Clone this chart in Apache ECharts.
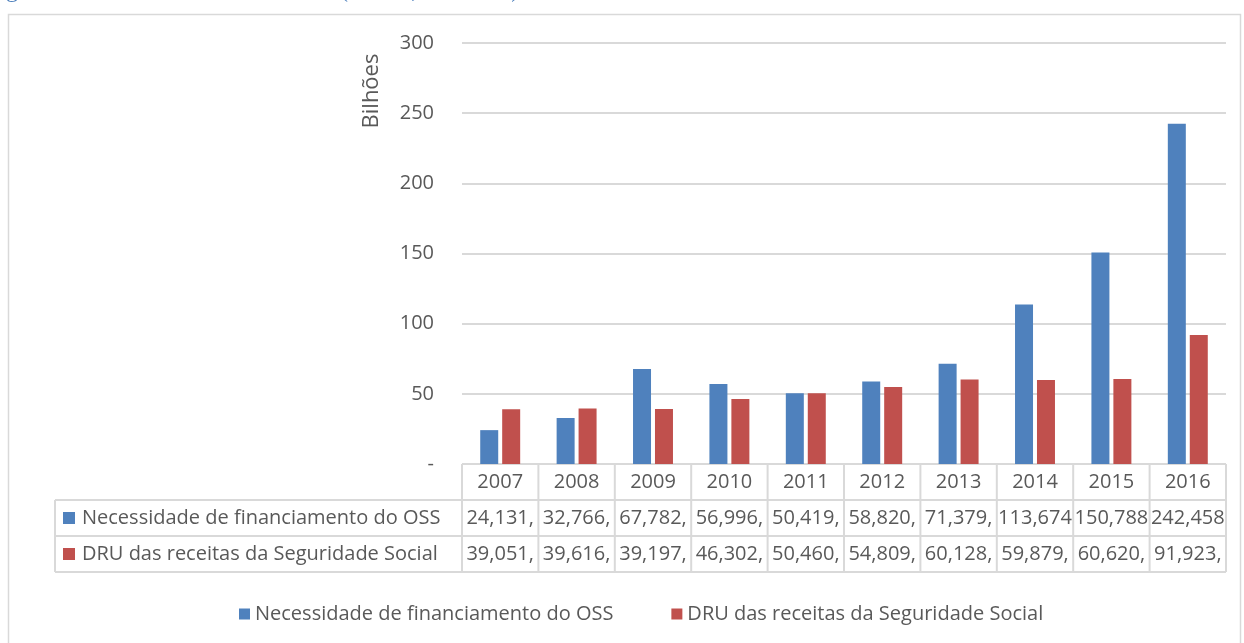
<!DOCTYPE html>
<html>
<head>
<meta charset="utf-8">
<script src="https://cdn.jsdelivr.net/npm/echarts@6/dist/echarts.min.js"></script>
<style>
  html, body { margin: 0; padding: 0; background: #fff; }
  #chart { width: 1244px; height: 643px; }
</style>
</head>
<body>
<div id="chart"></div>
<script>
// anos e valores (R$ bilhões)
const anos = ['2007', '2008', '2009', '2010', '2011', '2012', '2013', '2014', '2015', '2016'];
const necessidadeOSS = [24.131, 32.766, 67.782, 56.996, 50.419, 58.820, 71.379, 113.674, 150.788, 242.458];
const druSeguridade = [39.051, 39.616, 39.197, 46.302, 50.460, 54.809, 60.128, 59.879, 60.620, 91.923];
const nomes = ['Necessidade de financiamento do OSS', 'DRU das receitas da Seguridade Social'];
const cores = ['#4F81BD', '#C0504D'];

const FONT = '"Open Sans", sans-serif';
const TXT = '#595959';
const LINHA = '#D9D9D9';

// geometry of the plot / data table
const plotLeft = 462, plotRight = 1226, plotTop = 43, plotBottom = 464;
const rowH = 36, tableLeft = 55;
const catW = (plotRight - plotLeft) / anos.length;

// Excel shows the cell clipped: "24,131," ... "113,674"
function cellText(v) {
  const s = v.toFixed(3).replace('.', ',');
  return v < 100 ? s + ',' : s;
}

const chart = echarts.init(document.getElementById('chart'));

function tableGraphics() {
  const g = [];
  const line = (x1, y1, x2, y2) => g.push({
    type: 'line', silent: true,
    shape: { x1, y1, x2, y2 },
    style: { stroke: LINHA, lineWidth: 2 }
  });
  // horizontal borders
  line(plotLeft, plotBottom, plotRight, plotBottom);
  for (let r = 1; r <= 3; r++) {
    line(tableLeft, plotBottom + r * rowH, plotRight, plotBottom + r * rowH);
  }
  // vertical borders
  for (let i = 0; i <= anos.length; i++) {
    const x = plotLeft + i * catW;
    line(x, plotBottom, x, plotBottom + 3 * rowH);
  }
  line(tableLeft, plotBottom + rowH, tableLeft, plotBottom + 3 * rowH);

  const series = [necessidadeOSS, druSeguridade];
  series.forEach((vals, r) => {
    const cy = plotBottom + rowH * (r + 1.5);
    g.push({
      type: 'rect', silent: true,
      shape: { x: tableLeft + 8, y: cy - 6, width: 12, height: 12 },
      style: { fill: cores[r] }
    });
    g.push({
      type: 'text', silent: true,
      x: tableLeft + 27, y: cy,
      style: { text: nomes[r], fill: TXT, font: '20px ' + FONT, verticalAlign: 'middle', align: 'left' }
    });
    vals.forEach((v, i) => {
      g.push({
        type: 'text', silent: true,
        x: plotLeft + (i + 0.5) * catW, y: cy,
        style: { text: cellText(v), fill: TXT, font: '20px ' + FONT, verticalAlign: 'middle', align: 'center' }
      });
    });
  });
  return g;
}

const option = {
  backgroundColor: '#fff',
  animation: false,
  grid: {
    left: plotLeft, right: 1244 - plotRight, top: plotTop, bottom: 643 - plotBottom,
    containLabel: false
  },
  legend: {
    bottom: 14, left: 234,
    itemWidth: 11, itemHeight: 11, itemGap: 58,
    icon: 'rect',
    textStyle: { color: TXT, fontSize: 20, fontFamily: FONT },
    data: nomes
  },
  xAxis: {
    type: 'category',
    data: anos,
    axisLine: { show: false },
    axisTick: { show: false },
    axisLabel: { color: TXT, fontSize: 20, fontFamily: FONT, margin: 8 }
  },
  yAxis: {
    type: 'value',
    min: 0, max: 300, interval: 50,
    axisLine: { show: false },
    axisTick: { show: false },
    splitLine: { lineStyle: { color: LINHA, width: 2 } },
    axisLabel: {
      color: TXT, fontSize: 20, fontFamily: FONT, margin: 28,
      formatter: v => (v === 0 ? '-' : String(v))
    }
  },
  series: [
    {
      name: nomes[0], type: 'bar', data: necessidadeOSS,
      barWidth: 18, barGap: '22%',
      itemStyle: { color: cores[0] }
    },
    {
      name: nomes[1], type: 'bar', data: druSeguridade,
      barWidth: 18,
      itemStyle: { color: cores[1] }
    }
  ],
  graphic: [
    // chart frame
    {
      type: 'rect', silent: true, z: -1,
      shape: { x: 8.5, y: 14.5, width: 1232, height: 640 },
      style: { fill: 'none', stroke: LINHA, lineWidth: 1.5 }
    },
    // caption cut off at the top of the picture
    {
      type: 'text', silent: true,
      x: -14, y: 3,
      style: {
        text: 'Figura 5 – DRU e Necessidade OSS (em R$, nominais)',
        fill: '#4F81BD', font: '24px "Liberation Serif", serif',
        verticalAlign: 'bottom'
      }
    },
    {
      type: 'text', silent: true,
      x: 372, y: 91, rotation: Math.PI / 2,
      style: {
        text: 'Bilhões', fill: TXT, font: '22px ' + FONT,
        align: 'center', verticalAlign: 'middle'
      }
    }
  ].concat(tableGraphics())
};

chart.setOption(option);
</script>
</body>
</html>
